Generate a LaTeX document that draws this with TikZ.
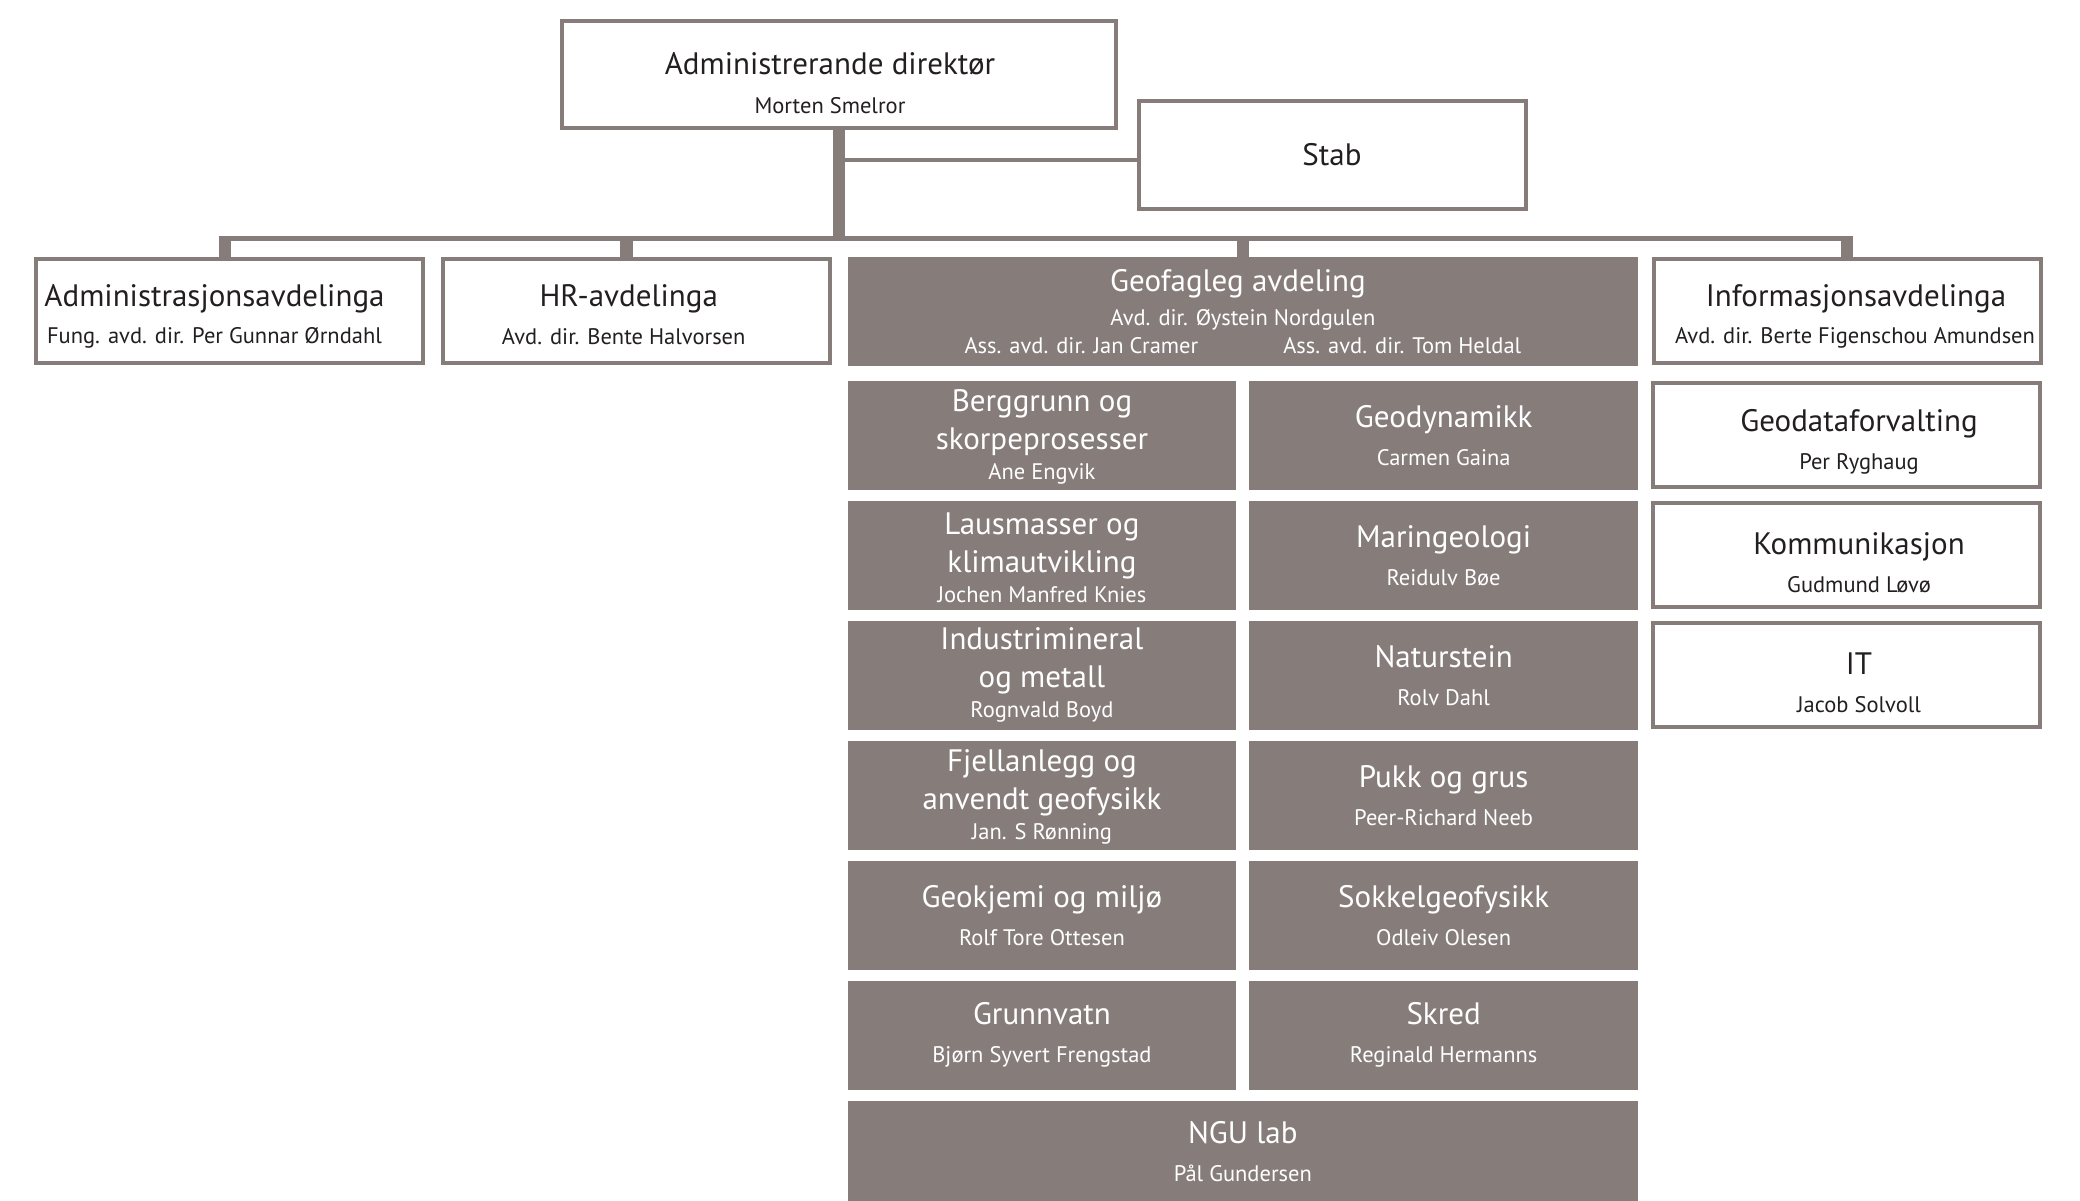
\documentclass[tikz,border=0pt]{standalone}
\usepackage{fontspec}
\setmainfont{PT Sans}
\usetikzlibrary{matrix,positioning}
\definecolor{nguGrey}{RGB}{134,125,123}
\definecolor{nguInk}{RGB}{35,31,32}
\newcommand{\hdfont}{\fontsize{31}{36}\selectfont}
\newcommand{\nmfont}{\fontsize{22.5}{30}\selectfont}
\newcommand{\padtop}[1]{\rule{0pt}{#1pt}}
\newcommand{\padbot}[1]{\rule[-#1pt]{0pt}{0pt}}
\tikzset{
  box/.style={draw=nguGrey, line width=4pt, fill=white, text=nguInk, minimum width=387pt, minimum height=104pt, inner sep=0pt, outer sep=0pt, align=center, font=\nmfont},
  unit/.style={box, draw=none, fill=nguGrey, text=white, minimum width=388.7pt, minimum height=109pt},
  link/.style={draw=nguGrey, line width=4.5pt},
  trunk/.style={link, line width=12.5pt},
  bar/.style={link, line width=5pt}
}

\begin{document}
\begin{tikzpicture}[x=1pt, y=-1pt]
  \useasboundingbox (0,0) rectangle (2080,1200);

  \node[box, minimum width=554pt, minimum height=107pt] (dir) at (839,74.5) {{\hdfont\padtop{40}Administrerande direktør\hspace*{18pt}}\\[9pt] Morten Smelror\hspace*{18pt}};
  \node[box, minimum height=108pt] (stab) at (1332,155) {\hdfont Stab};

  \node[box] (adm) at (229.5,311) {{\hdfont\padtop{32}Administrasjonsavdelinga\hspace*{30pt}}\\[7pt] Fung. avd. dir. Per Gunnar Ørndahl\hspace*{30pt}};
  \node[box] (hr) at (636.7,311) {{\hdfont\padtop{30}HR-avdelinga\hspace*{16pt}}\\[8pt] Avd. dir. Bente Halvorsen\hspace*{26pt}};
  \node[unit, minimum width=790.6pt] (geo) at (1242.9,311.5) {{\hdfont Geofagleg avdeling\hspace*{10pt}}\\[4pt] Avd. dir. Øystein Nordgulen\\[-2pt] Ass. avd. dir. Jan Cramer\hspace{85pt}Ass. avd. dir. Tom Heldal};
  \node[box] (info) at (1847,311) {{\hdfont\padtop{32}\hspace*{18pt}Informasjonsavdelinga}\\[7pt] \hspace*{16pt}Avd. dir. Berte Figenschou Amundsen};

  \matrix[anchor=north west, inner sep=0pt, outer sep=0pt, row sep=11pt, column sep=13pt] (grid) at (847.6,380.7) {
    \node[unit] (berg) {{\hdfont\padtop{26}Berggrunn og}\\[8pt]{\hdfont skorpeprosesser}\\ Ane Engvik}; &
    \node[unit] (dyn) {{\hdfont Geodynamikk}\\[8pt] Carmen Gaina}; \\
    \node[unit] (laus) {{\hdfont\padtop{26}Lausmasser og}\\[8pt]{\hdfont klimautvikling}\\ Jochen Manfred Knies}; &
    \node[unit] (mar) {{\hdfont Maringeologi}\\[8pt] Reidulv Bøe}; \\
    \node[unit] (ind) {{\hdfont Industrimineral}\\[8pt]{\hdfont og metall}\\ Rognvald Boyd}; &
    \node[unit] (nat) {{\hdfont Naturstein}\\[8pt] Rolv Dahl}; \\
    \node[unit] (fjell) {{\hdfont\padtop{26}Fjellanlegg og}\\[8pt]{\hdfont anvendt geofysikk}\\ Jan. S Rønning}; &
    \node[unit] (pukk) {{\hdfont Pukk og grus}\\[8pt] Peer-Richard Neeb}; \\
    \node[unit] (kjemi) {{\hdfont Geokjemi og miljø}\\[8pt] Rolf Tore Ottesen}; &
    \node[unit] (sokkel) {{\hdfont Sokkelgeofysikk}\\[8pt] Odleiv Olesen}; \\
    \node[unit] (vatn) {{\hdfont Grunnvatn}\\[8pt] Bjørn Syvert Frengstad}; &
    \node[unit] (skred) {{\hdfont Skred}\\[8pt] Reginald Hermanns}; \\
  };
  \node[unit, minimum width=790.6pt, below=11.3pt of grid] (lab) {{\hdfont NGU lab}\\[8pt] Pål Gundersen\padbot{8}};

  \node[box, right=15pt of dyn] (gdata) {{\hdfont\padtop{36}\hspace*{25pt}Geodataforvalting}\\[8pt] \hspace*{25pt}Per Ryghaug};
  \node[box, right=15pt of mar] (komm) {{\hdfont\padtop{36}\hspace*{25pt}Kommunikasjon}\\[8pt] \hspace*{25pt}Gudmund Løvø};
  \node[box, right=15pt of nat] (it) {{\hdfont\padtop{36}\hspace*{25pt}IT}\\[8pt] \hspace*{25pt}Jacob Solvoll};

  \coordinate (barL) at (219,238.5);
  \coordinate (barR) at (1853,238.5);
  \draw[bar] (barL) -- (barR);
  \draw[trunk] (dir.south) -- (dir.south |- barL);
  \draw[link] ([yshift=-5pt]stab.west) -- ([yshift=-5pt]stab.west -| dir.south);
  \foreach \d/\dx in {adm/-4.5, hr/-10, geo/0, info/0}
    \draw[trunk] ([xshift=\dx pt]\d.north) -- ([xshift=\dx pt]\d.north |- barL);
\end{tikzpicture}
\end{document}
